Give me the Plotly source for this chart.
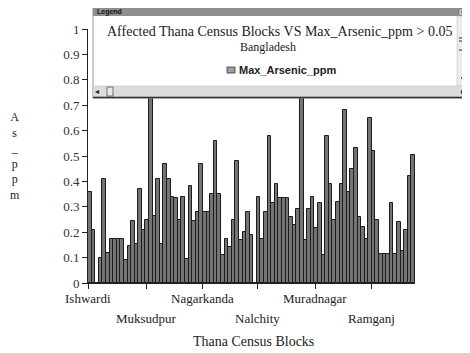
import plotly.graph_objects as go

# ---- data ----
arsenic_ppm = [
    0.36, 0.21, 0.0, 0.10, 0.41, 0.12, 0.175, 0.175, 0.175, 0.175,
    0.09, 0.145, 0.245, 0.155, 0.37, 0.21, 0.25, 0.90, 0.265, 0.41,
    0.155, 0.47, 0.41, 0.34, 0.335, 0.25, 0.34, 0.095, 0.38, 0.245,
    0.28, 0.47, 0.28, 0.28, 0.35, 0.56, 0.35, 0.11, 0.175, 0.14,
    0.25, 0.48, 0.17, 0.20, 0.28, 0.19, 0.0, 0.34, 0.175, 0.28,
    0.58, 0.315, 0.39, 0.335, 0.335, 0.335, 0.26, 0.23, 0.29, 0.90,
    0.17, 0.29, 0.34, 0.215, 0.315, 0.11, 0.58, 0.39, 0.25, 0.32,
    0.39, 0.68, 0.36, 0.45, 0.53, 0.26, 0.22, 0.175, 0.65, 0.52,
    0.25, 0.115, 0.115, 0.115, 0.315, 0.115, 0.24, 0.125, 0.21, 0.42,
    0.505,
]
block_index = list(range(len(arsenic_ppm)))
tick_labels = ["Ishwardi", "Muksudpur", "Nagarkanda", "Nalchity", "Muradnagar", "Ramganj"]
tick_positions = [-0.5, 15.9, 31.5, 46.8, 62.7, 78.3]
tick_rows = [0, 1, 0, 1, 0, 1]
y_ticks = [0, 0.1, 0.2, 0.3, 0.4, 0.5, 0.6, 0.7, 0.8, 0.9, 1]
y_tick_text = ["0", "0.1", "0.2", "0.3", "0.4", "0.5", "0.6", "0.7", "0.8", "0.9", "1"]
legend_title = "Affected Thana Census Blocks VS Max_Arsenic_ppm > 0.05"
legend_subtitle = "Bangladesh"
series_name = "Max_Arsenic_ppm"

# ---- layout geometry (page pixels; the page body has an 8px margin) ----
OFF = 8
W, H = 470 - OFF, 353 - OFF
L, R, T, B = 88, 415, 29, 283          # plot area in page pixels
PW, PH = R - L, B - T
SERIF = "Liberation Serif, Times New Roman, serif"
SANS = "Liberation Sans, Arial, sans-serif"


def px(X):
    return (X - L) / PW


def py(Y):
    return (B - Y) / PH


fig = go.Figure()
fig.add_trace(go.Bar(
    x=block_index, y=arsenic_ppm, name=series_name,
    marker=dict(color="#747474", line=dict(color="#1c1c1c", width=1)),
    hoverinfo="y",
))

annotations = []
for lab, pos, row in zip(tick_labels, tick_positions, tick_rows):
    annotations.append(dict(
        x=pos, xref="x", y=py(298 if row == 0 else 318), yref="paper",
        text=lab, showarrow=False, xanchor="center", yanchor="middle",
        font=dict(family=SERIF, size=13, color="#222"),
    ))
annotations.append(dict(
    x=px(253), y=py(341), xref="paper", yref="paper", text="Thana Census Blocks",
    showarrow=False, xanchor="center", yanchor="middle",
    font=dict(family=SERIF, size=14, color="#222"),
))
annotations.append(dict(
    x=px(15), y=py(156), xref="paper", yref="paper",
    text="A<br>s<br>_<br>p<br>p<br>m",
    showarrow=False, xanchor="center", yanchor="middle",
    font=dict(family=SERIF, size=12, color="#222"),
))

shapes = []


def rect(x0, y0, x1, y1, fill, line="#888", lw=1):
    shapes.append(dict(type="rect", xref="paper", yref="paper",
                       x0=px(x0), x1=px(x1), y0=py(y1), y1=py(y0),
                       fillcolor=fill, line=dict(color=line, width=lw),
                       layer="above"))


def seg(x0, y0, x1, y1, color="#444", lw=1):
    shapes.append(dict(type="line", xref="paper", yref="paper",
                       x0=px(x0), x1=px(x1), y0=py(y0), y1=py(y1),
                       line=dict(color=color, width=lw), layer="above"))


# legend window
rect(93, 8, 468, 98, "white", "#999", 1)
rect(93, 8, 468, 16, "#8e8e8e", "#8e8e8e", 0)
rect(459, 9, 466, 15, "#e0e0e0", "#555", 0.6)
rect(457, 16, 467, 86, "#ececec", "#bbb", 0.5)
seg(459, 38, 465, 38, "#333", 1)
seg(459, 41, 465, 41, "#333", 1)
seg(459, 50, 465, 50, "#333", 1)
seg(461, 78, 464, 78, "#333", 1.5)
rect(93, 86, 468, 97, "#dcdcdc", "#bbb", 0.5)
rect(107, 87, 113, 96, "#e8e8e8", "#555", 0.8)
seg(93, 97.5, 468, 97.5, "#333", 1.5)
rect(227, 67, 235, 73, "#a0a0a0", "#333", 0.8)

annotations += [
    dict(x=px(95), y=py(12), xref="paper", yref="paper", text="<b>Legend</b>",
         showarrow=False, xanchor="left", yanchor="middle",
         font=dict(family=SANS, size=7, color="#111")),
    dict(x=px(462.5), y=py(12), xref="paper", yref="paper", text="×",
         showarrow=False, xanchor="center", yanchor="middle",
         font=dict(family=SANS, size=8, color="#111")),
    dict(x=px(279), y=py(32), xref="paper", yref="paper", text=legend_title,
         showarrow=False, xanchor="center", yanchor="middle",
         font=dict(family=SERIF, size=14, color="#222")),
    dict(x=px(268), y=py(47), xref="paper", yref="paper", text=legend_subtitle,
         showarrow=False, xanchor="center", yanchor="middle",
         font=dict(family=SERIF, size=12, color="#222")),
    dict(x=px(237), y=py(70), xref="paper", yref="paper", text="<b>" + series_name + "</b>",
         showarrow=False, xanchor="left", yanchor="middle",
         font=dict(family=SANS, size=11, color="#222")),
    dict(x=px(97), y=py(91.5), xref="paper", yref="paper", text="◂",
         showarrow=False, xanchor="center", yanchor="middle",
         font=dict(family=SANS, size=8, color="#222")),
    dict(x=px(463), y=py(91.5), xref="paper", yref="paper", text="▸",
         showarrow=False, xanchor="center", yanchor="middle",
         font=dict(family=SANS, size=8, color="#222")),
]

fig.update_layout(
    width=W, height=H,
    margin=dict(l=L - OFF, r=W - (R - OFF), t=T - OFF, b=H - (B - OFF), pad=0),
    paper_bgcolor="white", plot_bgcolor="white",
    showlegend=False, bargap=0,
    xaxis=dict(range=[-0.5, len(arsenic_ppm) - 0.5], tickmode="array",
               tickvals=tick_positions, ticktext=[""] * len(tick_positions),
               ticks="outside", ticklen=5, tickcolor="#222", showgrid=False,
               zeroline=False, showline=True, linecolor="#222", linewidth=1),
    yaxis=dict(range=[0, 1], tickmode="array", tickvals=y_ticks, ticktext=y_tick_text,
               ticks="outside", ticklen=5, tickcolor="#222", showgrid=False,
               zeroline=False, showline=True, linecolor="#222", linewidth=1,
               tickfont=dict(family=SERIF, size=13, color="#333")),
    shapes=shapes, annotations=annotations,
)

fig.write_html("out.html")
